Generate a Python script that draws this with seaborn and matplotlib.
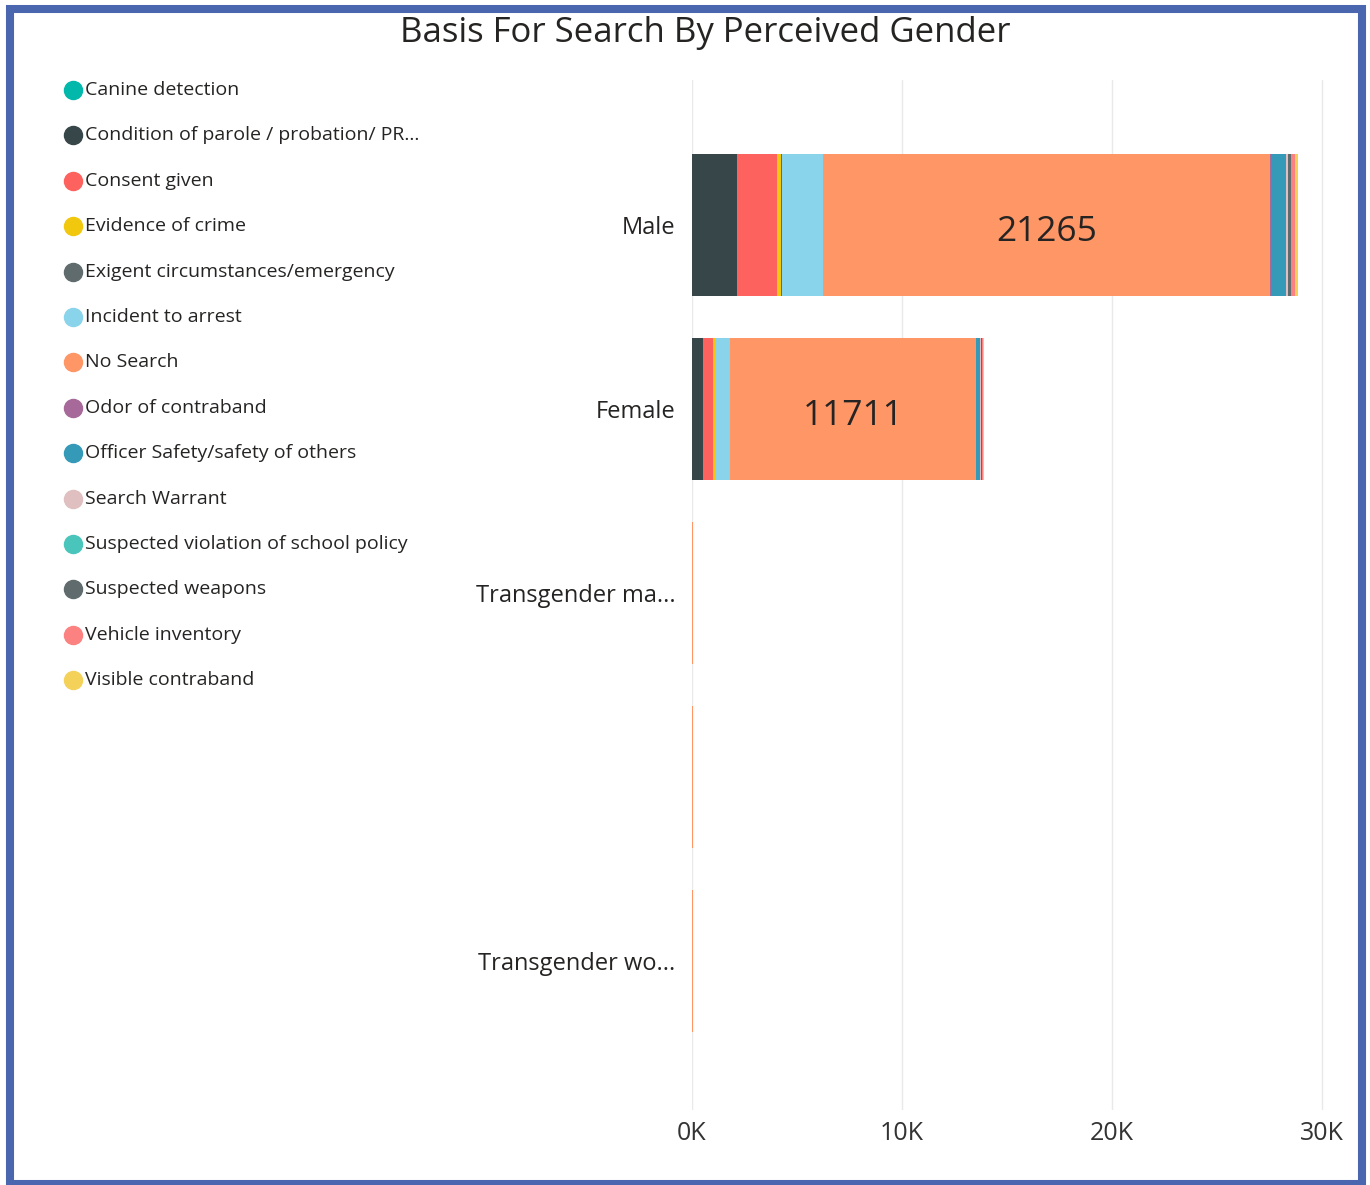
import matplotlib
matplotlib.use("Agg")
import matplotlib.pyplot as plt
import seaborn as sns
import pandas as pd
import numpy as np
from matplotlib.lines import Line2D
from matplotlib.patches import Rectangle
from matplotlib.ticker import FuncFormatter

# ---------------- data ----------------
genders = ["Male", "Female", "Transgender ma...", " ", "Transgender wo..."]

reasons = [
    "Canine detection",
    "Condition of parole / probation/ PR...",
    "Consent given",
    "Evidence of crime",
    "Exigent circumstances/emergency",
    "Incident to arrest",
    "No Search",
    "Odor of contraband",
    "Officer Safety/safety of others",
    "Search Warrant",
    "Suspected violation of school policy",
    "Suspected weapons",
    "Vehicle inventory",
    "Visible contraband",
]

colors = [
    "#01B8AA", "#374649", "#FD625E", "#F2C80F", "#5F6B6D", "#8AD4EB", "#FE9666",
    "#A66999", "#3599B8", "#DFBFBF", "#4AC5BB", "#5F6B6D", "#FB8281", "#F4D25A",
]

# values per reason, ordered like genders
canine      = [10, 5, 0, 0, 0]
parole      = [2110, 540, 0, 0, 0]
consent     = [1930, 476, 1, 1, 1]
evidence    = [200, 70, 0, 0, 0]
exigent     = [30, 10, 0, 0, 0]
incident    = [1980, 700, 1, 1, 1]
no_search   = [21265, 11711, 28, 28, 28]
odor        = [40, 15, 0, 0, 0]
officer     = [700, 210, 0, 0, 0]
warrant     = [100, 20, 0, 0, 0]
school      = [2, 1, 0, 0, 0]
weapons     = [175, 40, 0, 0, 0]
vehicle     = [190, 40, 0, 0, 0]
visible     = [110, 50, 0, 0, 0]

series = [canine, parole, consent, evidence, exigent, incident, no_search,
          odor, officer, warrant, school, weapons, vehicle, visible]

# ---------------- figure ----------------
W, H = 1370, 1185
sns.set_theme(style="white")
plt.rcParams["font.family"] = ["Open Sans", "DejaVu Sans"]

fig = plt.figure(figsize=(W / 100, H / 100), dpi=100)
fig.patch.set_facecolor("white")

x_max = 30500
px_per_unit = 0.021
ax_left, ax_top, ax_bottom = 692, 80, 1110
ax_w = x_max * px_per_unit
ax = fig.add_axes([ax_left / W, (H - ax_bottom) / H, ax_w / W, (ax_bottom - ax_top) / H])

vals = np.array(series, dtype=float)  # reasons x genders
cum = np.cumsum(vals, axis=0)

# draw stacked bars: largest cumulative first, so each segment shows
for i in range(len(reasons) - 1, -1, -1):
    df = pd.DataFrame({"gender": genders, "total": cum[i]})
    sns.barplot(data=df, x="total", y="gender", order=genders, orient="h",
                color=colors[i], saturation=1, width=0.77, linewidth=0,
                errorbar=None, ax=ax)

# data labels on large segments
for j, g in enumerate(genders):
    for i in range(len(reasons)):
        v = vals[i, j]
        if v > 5000:
            start = cum[i, j] - v
            ax.annotate(f"{int(v)}", xy=(start + v / 2, j), xytext=(0, -5),
                        textcoords="offset points", ha="center", va="center",
                        fontsize=25.5, color="#252423")

ax.set_xlim(0, x_max)
ax.set_ylim(4.81, -0.79)
ax.set_xticks([0, 10000, 20000, 30000])
ax.xaxis.set_major_formatter(FuncFormatter(lambda v, p: f"{int(v / 1000)}K"))
ax.grid(axis="x", color="#E9E9E9", linewidth=1)
ax.grid(axis="y", visible=False)
ax.set_axisbelow(True)
for s in ax.spines.values():
    s.set_visible(False)
ax.set_xlabel("")
ax.set_ylabel("")
ax.tick_params(axis="y", length=0, pad=12, labelsize=17, labelcolor="#252423")
ax.tick_params(axis="x", length=0, pad=8, labelsize=18, labelcolor="#333333")
ax.set_facecolor("white")

# title
fig.text(705 / W, 1 - 33 / H, "Basis For Search By Perceived Gender",
         ha="center", va="center", fontsize=25, color="#252423")

# legend (manual)
for k, (lab, c) in enumerate(zip(reasons, colors)):
    y = 90 + k * 45.4
    fig.add_artist(Line2D([73 / W], [1 - y / H], marker="o", markersize=13,
                          color=c, linestyle="none", transform=fig.transFigure))
    fig.text(85 / W, 1 - y / H, lab, ha="left", va="center", fontsize=14,
             color="#252423")

# frame
fig.add_artist(Rectangle((10 / W, 1 / H), (1362 - 10) / W, (1182 - 7) / H,
                         fill=False, edgecolor="#4A66AE", linewidth=5.8,
                         transform=fig.transFigure))

fig.savefig("out.png", dpi=100, facecolor="white")
